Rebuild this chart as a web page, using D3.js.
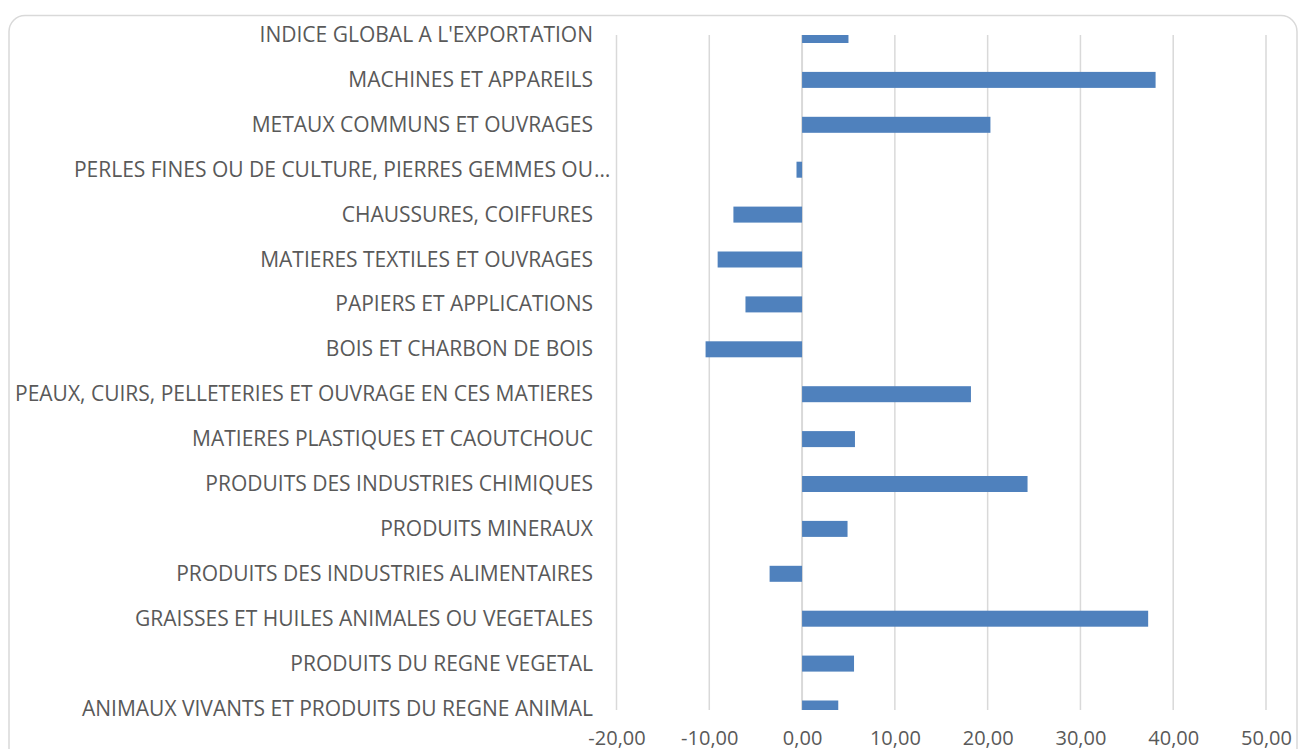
<!DOCTYPE html>
<html>
<head>
<meta charset="utf-8">
<script src="https://cdn.jsdelivr.net/npm/d3@7"></script>
<style>
  html, body { margin: 0; padding: 0; background: #ffffff; }
  svg { display: block; }
</style>
</head>
<body>
<script>
// Categories, top to bottom as displayed
const categories = [
  "INDICE GLOBAL A L'EXPORTATION",
  "MACHINES ET APPAREILS",
  "METAUX COMMUNS ET OUVRAGES",
  "PERLES FINES OU DE CULTURE, PIERRES GEMMES OU…",
  "CHAUSSURES, COIFFURES",
  "MATIERES TEXTILES ET OUVRAGES",
  "PAPIERS ET APPLICATIONS",
  "BOIS ET CHARBON DE BOIS",
  "PEAUX, CUIRS, PELLETERIES ET OUVRAGE EN CES MATIERES",
  "MATIERES PLASTIQUES ET CAOUTCHOUC",
  "PRODUITS DES INDUSTRIES CHIMIQUES",
  "PRODUITS MINERAUX",
  "PRODUITS DES INDUSTRIES ALIMENTAIRES",
  "GRAISSES ET HUILES ANIMALES OU VEGETALES",
  "PRODUITS DU REGNE VEGETAL",
  "ANIMAUX VIVANTS ET PRODUITS DU REGNE ANIMAL"
];

// Variation (%) per category
const values = [5.0, 38.1, 20.3, -0.6, -7.4, -9.1, -6.1, -10.4,
                18.2, 5.7, 24.3, 4.9, -3.5, 37.3, 5.6, 3.9];

// X axis ticks
const xTicks = [-20, -10, 0, 10, 20, 30, 40, 50];

const W = 1298, H = 749;
const plot = { left: 616.5, right: 1266, top: 35, bottom: 710 };
const barColor = "#4f81bd";
const gridColor = "#d9d9d9";
const textColor = "#595959";
const fontFamily = "'Open Sans', 'DejaVu Sans', sans-serif";

const svg = d3.select("body").append("svg")
  .attr("width", W).attr("height", H);

// Chart frame (rounded)
svg.append("rect")
  .attr("x", 9).attr("y", 15.5)
  .attr("width", 1288).attr("height", 760)
  .attr("rx", 16).attr("ry", 16)
  .attr("fill", "#ffffff")
  .attr("stroke", gridColor).attr("stroke-width", 1.5);

const x = d3.scaleLinear().domain([-20, 50]).range([plot.left, plot.right]);
const y = d3.scalePoint().domain(categories).range([35, 708.5]);
const barH = 16;

const locale = d3.formatLocale({ decimal: ",", thousands: " ", grouping: [3], currency: ["", " €"], minus: "-" });
const fmt = locale.format(".2f");

// Vertical gridlines
svg.append("g").selectAll("line")
  .data(xTicks)
  .join("line")
  .attr("x1", d => x(d)).attr("x2", d => x(d))
  .attr("y1", plot.top).attr("y2", plot.bottom)
  .attr("stroke", gridColor)
  .attr("stroke-width", d => d === 0 ? 2 : 1.5);

// Bars clipped to the plot area
svg.append("clipPath").attr("id", "plot-clip")
  .append("rect")
  .attr("x", 0).attr("y", plot.top)
  .attr("width", W).attr("height", plot.bottom - plot.top);

svg.append("g").attr("clip-path", "url(#plot-clip)")
  .selectAll("rect")
  .data(categories.map((c, i) => ({ c, v: values[i] })))
  .join("rect")
  .attr("x", d => x(Math.min(0, d.v)))
  .attr("width", d => Math.abs(x(d.v) - x(0)))
  .attr("y", d => y(d.c) - barH / 2)
  .attr("height", barH)
  .attr("fill", barColor);

// X axis tick labels
const xAxis = d3.axisBottom(x).tickValues(xTicks).tickFormat(fmt).tickSize(0).tickPadding(0);
const gx = svg.append("g")
  .attr("transform", `translate(0, 744.5)`)
  .call(xAxis);
gx.select(".domain").remove();
gx.selectAll("text")
  .attr("dy", 0)
  .attr("fill", textColor)
  .attr("font-family", fontFamily)
  .attr("font-size", 20);

// Category labels (right aligned, overflow ellipsis kept outside)
const labelX = 593;
const labels = svg.append("g")
  .attr("font-family", fontFamily)
  .attr("font-size", 21)
  .attr("fill", textColor);

categories.forEach(c => {
  const cy = y(c) + 7;
  if (c.endsWith("…")) {
    labels.append("text").attr("x", labelX).attr("y", cy)
      .attr("text-anchor", "end").text(c.slice(0, -1));
    labels.append("text").attr("x", labelX + 1).attr("y", cy)
      .attr("text-anchor", "start").text("…");
  } else {
    labels.append("text").attr("x", labelX).attr("y", cy)
      .attr("text-anchor", "end").text(c);
  }
});
</script>
</body>
</html>
